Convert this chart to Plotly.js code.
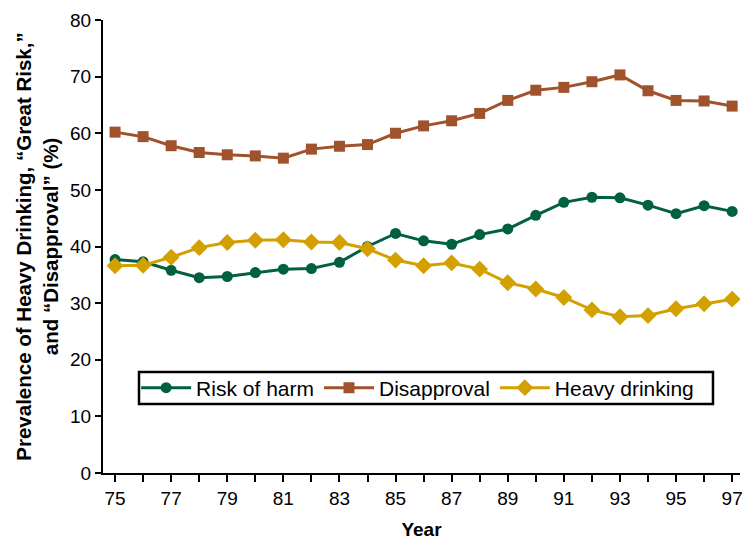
<!DOCTYPE html>
<html>
<head>
<meta charset="utf-8">
<script src="https://cdn.plot.ly/plotly-3.0.1.min.js"></script>
<style>html,body{margin:0;padding:0;background:#fff;}#chart{width:744px;height:540px;}</style>
</head>
<body>
<div id="chart"></div>
<script>
const years = [75,76,77,78,79,80,81,82,83,84,85,86,87,88,89,90,91,92,93,94,95,96,97];
const riskOfHarm = [37.7,37.3,35.8,34.5,34.7,35.4,36.0,36.1,37.2,40.0,42.3,41.0,40.4,42.1,43.1,45.5,47.8,48.7,48.6,47.3,45.8,47.2,46.2];
const disapproval = [60.2,59.4,57.8,56.6,56.2,56.0,55.6,57.2,57.7,58.0,60.0,61.3,62.2,63.5,65.8,67.6,68.1,69.1,70.3,67.5,65.8,65.7,64.8];
const heavyDrinking = [36.6,36.7,38.1,39.8,40.7,41.1,41.2,40.8,40.7,39.6,37.6,36.6,37.1,36.0,33.6,32.5,31.0,28.8,27.6,27.8,29.0,29.9,30.7];
const yTicks = [0,10,20,30,40,50,60,70,80];
const xTickText = years.map(y => (y % 2 === 1 ? String(y) : ''));

const sans = '"Liberation Sans", Arial, Helvetica, sans-serif';

const traces = [
  {x: years, y: riskOfHarm, name: 'Risk of harm', mode: 'lines+markers',
   line: {color: '#00603F', width: 3}, marker: {symbol: 'circle', size: 11, color: '#00603F'}},
  {x: years, y: disapproval, name: 'Disapproval', mode: 'lines+markers',
   line: {color: '#A0522D', width: 3}, marker: {symbol: 'square', size: 11, color: '#A0522D'}},
  {x: years, y: heavyDrinking, name: 'Heavy drinking', mode: 'lines+markers',
   line: {color: '#D4A000', width: 3}, marker: {symbol: 'diamond', size: 13, color: '#D4A000'}}
];

const layout = {
  width: 744, height: 540,
  margin: {l: 103, r: 4, t: 20, b: 67},
  paper_bgcolor: '#fff', plot_bgcolor: '#fff',
  showlegend: true,
  legend: {orientation: 'h', x: 0.052, xanchor: 'left', y: 0.1876, yanchor: 'middle',
           borderwidth: 0, bgcolor: 'rgba(0,0,0,0)', itemwidth: 50,
           font: {family: sans, size: 21, color: '#000'}, tracegroupgap: 0},
  shapes: [{type: 'rect', xref: 'paper', yref: 'paper', x0: 0.0565, x1: 0.9576, y0: 0.1523, y1: 0.223,
            line: {color: '#000', width: 2.5}, fillcolor: 'rgba(0,0,0,0)', layer: 'above'}],
  xaxis: {range: [74.57, 97.28], tickvals: years, ticktext: xTickText,
          showgrid: false, zeroline: false, showline: true, linecolor: '#000', linewidth: 2,
          ticks: 'outside', ticklen: 7, tickwidth: 2, tickcolor: '#000',
          tickfont: {family: sans, size: 19, color: '#000'},
          title: {text: '<b>Year</b>', font: {family: sans, size: 19, color: '#000'}, standoff: 18}},
  yaxis: {range: [0, 80], tickvals: yTicks,
          showgrid: false, zeroline: false, showline: true, linecolor: '#000', linewidth: 2,
          ticks: 'outside', ticklen: 6, tickwidth: 2, tickcolor: '#000',
          tickfont: {family: sans, size: 19, color: '#000'},
          title: {text: '<b>Prevalence of Heavy Drinking, \u201cGreat Risk,\u201d<br>and \u201cDisapproval\u201d (%)</b>',
                  font: {family: sans, size: 20.5, color: '#000'}, standoff: 6}}
};

Plotly.newPlot('chart', traces, layout, {displayModeBar: false, staticPlot: true});
</script>
</body>
</html>
